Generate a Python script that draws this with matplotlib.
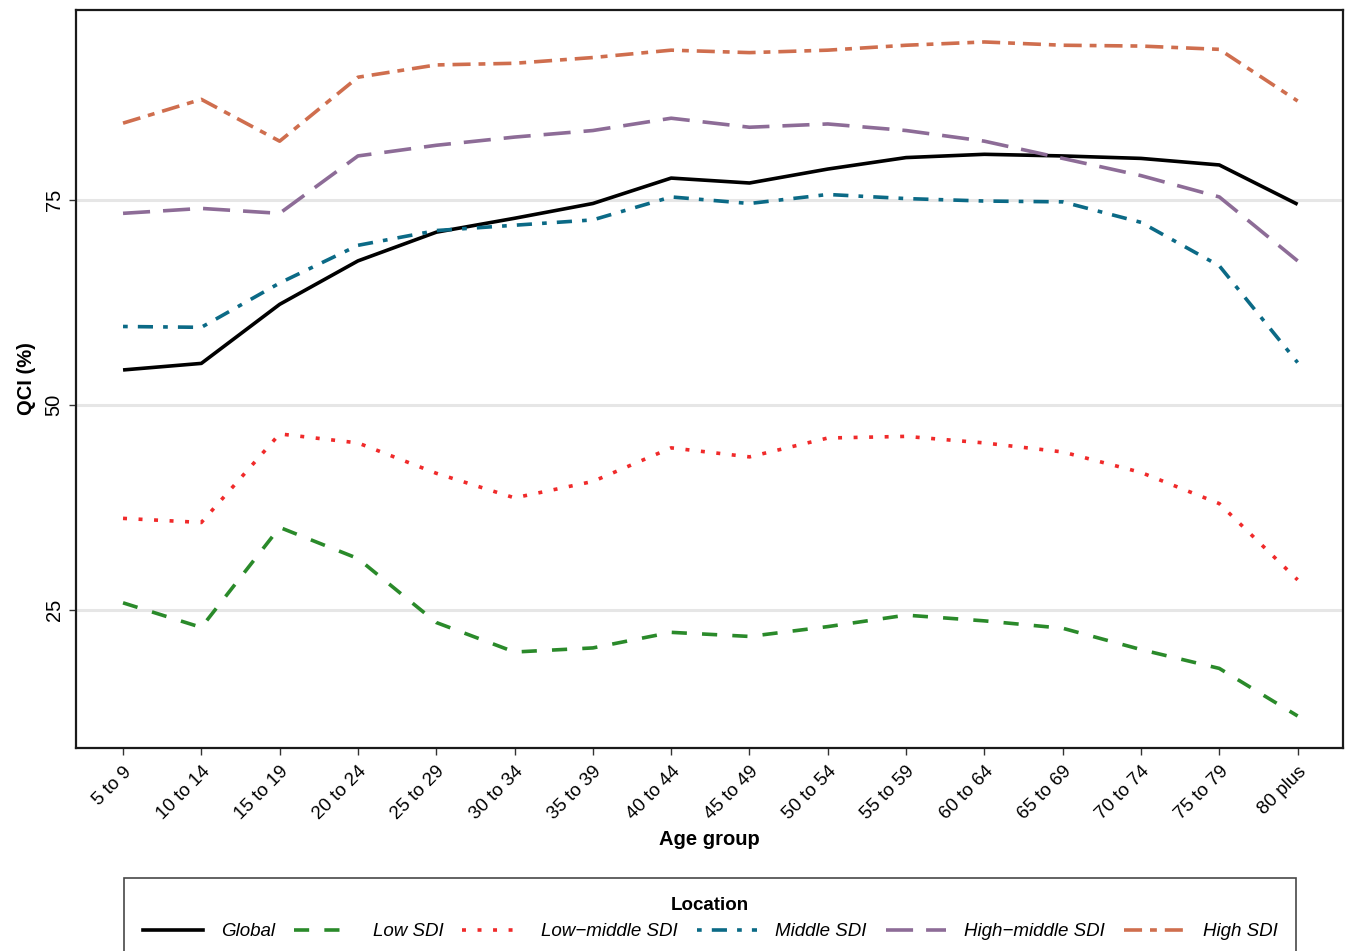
import matplotlib.pyplot as plt
from matplotlib.lines import Line2D
import numpy as np

plt.rcParams["font.family"] = ["Liberation Sans", "DejaVu Sans"]

AGE_GROUPS = ["5 to 9", "10 to 14", "15 to 19", "20 to 24", "25 to 29", "30 to 34",
              "35 to 39", "40 to 44", "45 to 49", "50 to 54", "55 to 59", "60 to 64",
              "65 to 69", "70 to 74", "75 to 79", "80 plus"]

global_qci = [54.3, 55.1, 62.3, 67.6, 71.1, 72.8, 74.6, 77.7, 77.1, 78.8, 80.2, 80.6, 80.4, 80.1, 79.3, 74.5]
low_sdi = [25.9, 22.9, 35.1, 31.3, 23.5, 19.9, 20.4, 22.3, 21.8, 23.0, 24.4, 23.7, 22.8, 20.2, 17.9, 12.1]
low_middle_sdi = [36.2, 35.7, 46.5, 45.4, 41.7, 38.7, 40.7, 44.8, 43.7, 46.0, 46.2, 45.4, 44.3, 41.8, 38.0, 28.7]
middle_sdi = [59.6, 59.5, 64.9, 69.5, 71.3, 71.95, 72.6, 75.4, 74.6, 75.7, 75.2, 74.9, 74.8, 72.3, 67.0, 55.2]
high_middle_sdi = [73.4, 74.0, 73.4, 80.4, 81.7, 82.7, 83.5, 85.0, 83.9, 84.3, 83.5, 82.2, 80.1, 78.0, 75.4, 67.6]
high_sdi = [84.4, 87.3, 82.2, 90.0, 91.5, 91.7, 92.4, 93.3, 93.0, 93.3, 93.9, 94.3, 93.9, 93.8, 93.4, 87.1]

SERIES = [
    ("Global", global_qci, "black", "-"),
    ("Low SDI", low_sdi, "#2A8A2A", (0, (4.2, 4.2))),
    ("Low\u2212middle SDI", low_middle_sdi, "#F02A2A", (0, (1.1, 3.2))),
    ("Middle SDI", middle_sdi, "#0B6A86", (0, (1.3, 2.8, 4.2, 2.8))),
    ("High\u2212middle SDI", high_middle_sdi, "#8D6C97", (0, (7.5, 3.6))),
    ("High SDI", high_sdi, "#CF6E4E", (0, (5, 2.2, 1.9, 2.2))),
]

LW = 2.6

fig = plt.figure(figsize=(13.46, 9.51), dpi=100)
ax = fig.add_axes([0.0565, 0.2135, 0.9413, 0.776])

x = np.arange(len(AGE_GROUPS))
handles = []
for name, vals, color, ls in SERIES:
    ax.plot(x, vals, color=color, linestyle=ls, linewidth=LW,
            solid_capstyle="butt", dash_capstyle="butt")
    handles.append(Line2D([], [], color=color, linestyle=ls, linewidth=LW,
                          dash_capstyle="butt", label=name))

ax.set_xlim(-0.6, 15.58)
ax.set_ylim(8.2, 98.2)
ax.set_yticks([25, 50, 75])
ax.set_yticklabels(["25", "50", "75"], rotation=90, va="center")
ax.set_xticks(x)
ax.set_xticklabels(AGE_GROUPS, rotation=45, ha="right", rotation_mode="anchor")
ax.tick_params(axis="x", labelsize=13.5, color="#333333", length=5, width=1, pad=6)
ax.tick_params(axis="y", labelsize=14.5, color="#333333", length=5, width=1, pad=4)
ax.grid(axis="y", color="#E6E6E6", linewidth=2.2)
ax.set_axisbelow(True)
for sp in ax.spines.values():
    sp.set_linewidth(1.6)
    sp.set_color("#1A1A1A")

ax.set_xlabel("Age group", fontsize=14.5, fontweight="bold", labelpad=5)
ax.set_ylabel("QCI (%)", fontsize=14.5, fontweight="bold", labelpad=6)

leg = fig.legend(handles=handles, loc="upper center", bbox_to_anchor=(0.5275, 0.0768),
                 ncol=6, frameon=True, fancybox=False, edgecolor="#1A1A1A",
                 title="Location", handlelength=3.2, columnspacing=1.0,
                 handletextpad=1.0, borderpad=1.0, borderaxespad=0.0,
                 prop={"size": 13.5, "style": "italic"},
                 title_fontproperties={"size": 13.5, "weight": "bold"})
leg.get_frame().set_linewidth(1.2)

fig.savefig("out.png", dpi=100)
